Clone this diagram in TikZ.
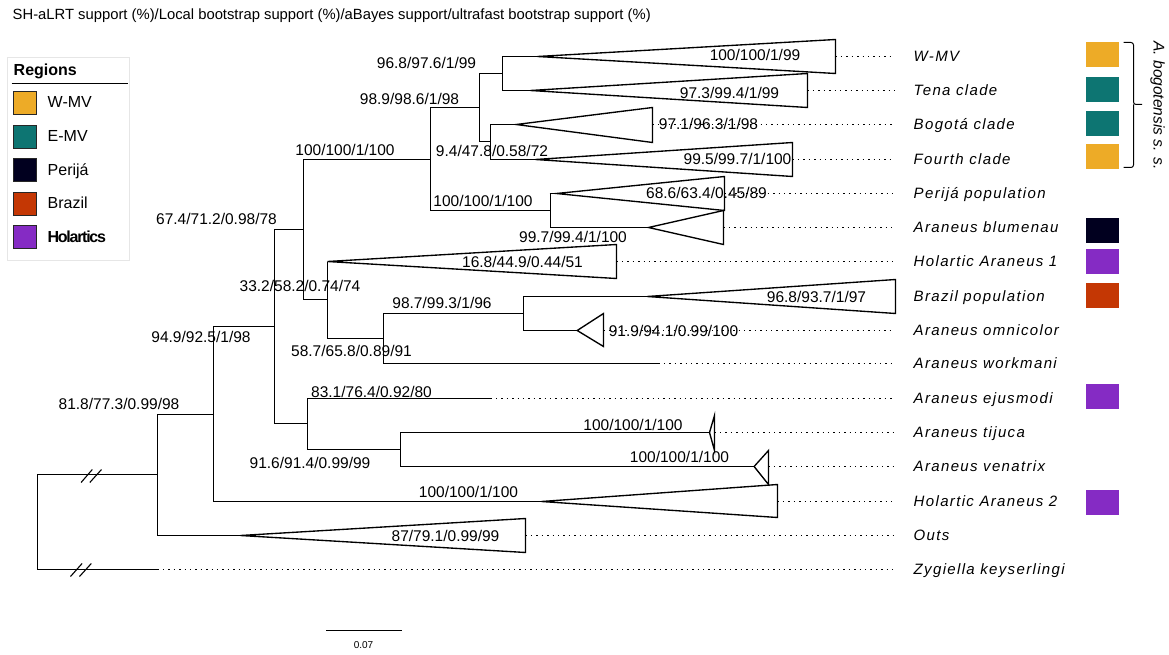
\documentclass[tikz,border=0pt]{standalone}
\usepackage{fontspec}
\setmainfont{Liberation Sans}
\newfontfamily\tipfam[LetterSpace=9]{Liberation Sans}
\newfontfamily\holfam[LetterSpace=-8]{Liberation Sans}
\definecolor{wmv}{HTML}{EDAB27}
\definecolor{emv}{HTML}{0D7572}
\definecolor{perija}{HTML}{01001F}
\definecolor{brazil}{HTML}{C43704}
\definecolor{holart}{HTML}{852BC4}
\definecolor{legborder}{HTML}{E6E6E6}
\begin{document}
\begin{tikzpicture}[x=1pt,y=-1pt,
  br/.style={line width=1.35pt},
  dots/.style={line width=1.4pt, dash pattern=on 1.4pt off 4pt},
  supp/.style={font=\fontsize{15.5}{18}\selectfont, inner sep=0pt, anchor=base, yshift=-5.6pt},
  tiplab/.style={font=\tipfam\itshape\fontsize{15}{18}\selectfont, inner sep=0pt, anchor=base west, yshift=-5.4pt},
  regsq/.style={minimum width=33pt, minimum height=25pt, inner sep=0pt},
  legsq/.style={draw=black!85, line width=0.8pt, minimum width=23pt, minimum height=23pt, inner sep=0pt},
  leglab/.style={font=\fontsize{16}{19}\selectfont, inner sep=0pt, anchor=base west, yshift=-5.8pt},
  breakmark/.style={line width=1.1pt}
]
\path[fill=white] (-0.5,-0.5) rectangle (1168.5,654.5);
\useasboundingbox (-0.5,-0.5) rectangle (1168.5,654.5);

% title
\node[anchor=base west, inner sep=0pt, font=\fontsize{14.8}{17}\selectfont] (title) at (12,19)
  {SH-aLRT support (\%)/Local bootstrap support (\%)/aBayes support/ultrafast bootstrap support (\%)};

% legend
\draw[legborder, line width=1pt] (7,57) rectangle (129,260);
\node[anchor=base west, inner sep=0pt, font=\bfseries\fontsize{16}{19}\selectfont] (regions) at (13,74.8) {Regions};
\draw[line width=1.2pt] (11,83) -- (127,83);
\node[legsq, fill=wmv] (lq1) at (24.5,102) {};
\node[legsq, fill=emv] (lq2) at (24.5,136.3) {};
\node[legsq, fill=perija] (lq3) at (24.5,169.5) {};
\node[legsq, fill=brazil] (lq4) at (24.5,203) {};
\node[legsq, fill=holart] (lq5) at (24.5,236.7) {};
\node[leglab] (ll1) at (47,101) {W-MV};
\node[leglab] (ll2) at (47,135.5) {E-MV};
\node[leglab] (ll3) at (47,169) {Perijá};
\node[leglab] (ll4) at (47,202.5) {Brazil};
\node[leglab, font=\holfam\bfseries\fontsize{16}{19}\selectfont] (ll5) at (47,236.5) {Holartics};

% internal nodes
\coordinate (root) at (37,522);
\coordinate (nK) at (157,474);
\coordinate (nJ) at (213,414);
\coordinate (nG) at (274,326);
\coordinate (nC) at (303,229);
\coordinate (nB) at (430,159);
\coordinate (nA) at (479,107);
\coordinate (nWT) at (502,73);
\coordinate (nBF) at (490,141);
\coordinate (nPB) at (550,210);
\coordinate (nD) at (327,299);
\coordinate (nE) at (383,338);
\coordinate (nF) at (523,313);
\coordinate (nH) at (307,423);
\coordinate (nI) at (400,449);

% clade apices / branch ends
\coordinate (aWMV) at (537,56);
\coordinate (aTena) at (530,90);
\coordinate (aBog) at (515.7,124);
\coordinate (aFour) at (535,159);
\coordinate (aPer) at (556,193);
\coordinate (aBlu) at (648,227);
\coordinate (aHol1) at (327,261);
\coordinate (aBra) at (646.7,296);
\coordinate (aOmn) at (576.7,330);
\coordinate (aWork) at (658,363);
\coordinate (aEju) at (490,398);
\coordinate (aTij) at (709,432);
\coordinate (aVen) at (753.6,466);
\coordinate (aHol2) at (541,501);
\coordinate (aOuts) at (240,535);
\coordinate (aZyg) at (157,569);

% branches
\draw[br] (root) |- (nK);
\draw[br] (root) |- (aZyg);
\draw[br] (nK) |- (nJ);
\draw[br] (nK) |- (aOuts);
\draw[br] (nJ) |- (nG);
\draw[br] (nJ) |- (aHol2);
\draw[br] (nG) |- (nC);
\draw[br] (nG) |- (nH);
\draw[br] (nC) |- (nB);
\draw[br] (nC) |- (nD);
\draw[br] (nB) |- (nA);
\draw[br] (nB) |- (nPB);
\draw[br] (nA) |- (nWT);
\draw[br] (nA) |- (nBF);
\draw[br] (nWT) |- (aWMV);
\draw[br] (nWT) |- (aTena);
\draw[br] (nBF) |- (aBog);
\draw[br] (nBF) |- (aFour);
\draw[br] (nPB) |- (aPer);
\draw[br] (nPB) |- (aBlu);
\draw[br] (nD) |- (aHol1);
\draw[br] (nD) |- (nE);
\draw[br] (nE) |- (nF);
\draw[br] (nE) |- (aWork);
\draw[br] (nF) |- (aBra);
\draw[br] (nF) |- (aOmn);
\draw[br] (nH) |- (aEju);
\draw[br] (nH) |- (nI);
\draw[br] (nI) |- (aTij);
\draw[br] (nI) |- (aVen);

% collapsed clades
\draw[br] (aWMV) -- (835,39) -- (835,73) -- cycle;
\draw[br] (aTena) -- (807,73) -- (807,107) -- cycle;
\draw[br] (aBog) -- (652,107) -- (652,142) -- cycle;
\draw[br] (aFour) -- (792,142) -- (792,176) -- cycle;
\draw[br] (aPer) -- (724,176) -- (724,210) -- cycle;
\draw[br] (aBlu) -- (723,210) -- (723,244) -- cycle;
\draw[br] (aHol1) -- (616,244) -- (616,278) -- cycle;
\draw[br] (aBra) -- (895,279) -- (895,313) -- cycle;
\draw[br] (aOmn) -- (603,313) -- (603,346) -- cycle;
\draw[br] (aTij) -- (714,415) -- (714,450) -- cycle;
\draw[br] (aVen) -- (768,450) -- (768,484) -- cycle;
\draw[br] (aHol2) -- (777,484) -- (777,517) -- cycle;
\draw[br] (aOuts) -- (525,518) -- (525,552) -- cycle;

% break marks
\draw[breakmark] (80.6,482) -- (91.8,469);
\draw[breakmark] (89.3,482) -- (101,469);
\draw[breakmark] (70,576) -- (81.6,563);
\draw[breakmark] (79,576) -- (90.8,563);

% tip labels
\node[tiplab] (tWMV) at (913,56) {W-MV};
\node[tiplab] (tTena) at (913,90) {Tena clade};
\node[tiplab] (tBog) at (913,124) {Bogotá clade};
\node[tiplab] (tFour) at (913,159) {Fourth clade};
\node[tiplab] (tPer) at (913,193) {Perijá population};
\node[tiplab] (tBlu) at (913,227) {Araneus blumenau};
\node[tiplab] (tHol1) at (913,261) {Holartic Araneus 1};
\node[tiplab] (tBra) at (913,296) {Brazil population};
\node[tiplab] (tOmn) at (913,330) {Araneus omnicolor};
\node[tiplab] (tWork) at (913,363) {Araneus workmani};
\node[tiplab] (tEju) at (913,398) {Araneus ejusmodi};
\node[tiplab] (tTij) at (913,432) {Araneus tijuca};
\node[tiplab] (tVen) at (913,466) {Araneus venatrix};
\node[tiplab] (tHol2) at (913,501) {Holartic Araneus 2};
\node[tiplab] (tOuts) at (913,535) {Outs};
\node[tiplab] (tZyg) at (913,569) {Zygiella keyserlingi};

% leader dots
\draw[dots] (835,56) -- (894,56);
\draw[dots] (807,90) -- (894,90);
\draw[dots] (652,124) -- (894,124);
\draw[dots] (792,159) -- (894,159);
\draw[dots] (724,193) -- (894,193);
\draw[dots] (723,227) -- (894,227);
\draw[dots] (616,261) -- (894,261);
\draw[dots] (603,330) -- (894,330);
\draw[dots] (aWork) -- (894,363);
\draw[dots] (aEju) -- (894,398);
\draw[dots] (714,432) -- (894,432);
\draw[dots] (768,466) -- (894,466);
\draw[dots] (777,501) -- (894,501);
\draw[dots] (525,535) -- (894,535);
\draw[dots] (aZyg) -- (894,569);

% support values
\node[supp] (s1) at (426,62) {96.8/97.6/1/99};
\node[supp] (s2) at (409,98) {98.9/98.6/1/98};
\node[supp] (s3) at (344.5,149) {100/100/1/100};
\node[supp] (s4) at (491.5,150) {9.4/47.8/0.58/72};
\node[supp] (s5) at (482.5,200) {100/100/1/100};
\node[supp] (s6) at (706,192) {68.6/63.4/0.45/89};
\node[supp] (s7) at (572.5,236.7) {99.7/99.4/1/100};
\node[supp] (s8) at (216,218) {67.4/71.2/0.98/78};
\node[supp] (s9) at (522,261.7) {16.8/44.9/0.44/51};
\node[supp] (s10) at (299.5,285) {33.2/58.2/0.74/74};
\node[supp] (s11) at (200.5,336) {94.9/92.5/1/98};
\node[supp] (s12) at (441.5,302) {98.7/99.3/1/96};
\node[supp] (s13) at (816,296) {96.8/93.7/1/97};
\node[supp] (s14) at (351,350) {58.7/65.8/0.89/91};
\node[supp] (s15) at (673,330) {91.9/94.1/0.99/100};
\node[supp] (s16) at (118.5,403) {81.8/77.3/0.99/98};
\node[supp] (s17) at (371,391) {83.1/76.4/0.92/80};
\node[supp] (s18) at (309.5,462) {91.6/91.4/0.99/99};
\node[supp] (s19) at (632.5,424) {100/100/1/100};
\node[supp] (s20) at (679,456) {100/100/1/100};
\node[supp] (s21) at (468,491) {100/100/1/100};
\node[supp] (s22) at (445,535) {87/79.1/0.99/99};
\node[supp] (s23) at (754.5,54) {100/100/1/99};
\node[supp] (s24) at (729,92) {97.3/99.4/1/99};
\node[supp] (s25) at (708,123) {97.1/96.3/1/98};
\node[supp] (s26) at (737,158) {99.5/99.7/1/100};

% region squares
\node[regsq, fill=wmv] (q1) at (1101.5,54.2) {};
\node[regsq, fill=emv] (q2) at (1101.5,89.2) {};
\node[regsq, fill=emv] (q3) at (1101.5,123.5) {};
\node[regsq, fill=wmv] (q4) at (1101.5,155.8) {};
\node[regsq, fill=perija] (q5) at (1101.5,229.6) {};
\node[regsq, fill=holart] (q6) at (1101.5,260.5) {};
\node[regsq, fill=brazil] (q7) at (1101.5,294.5) {};
\node[regsq, fill=holart] (q8) at (1101.5,396) {};
\node[regsq, fill=holart] (q9) at (1101.5,502) {};

% bracket
\draw[line width=1pt, rounded corners=2.5pt] (1123,42) -- (1133,42) -- (1133,104) -- (1141.5,104);
\draw[line width=1pt, rounded corners=2.5pt] (1123,167) -- (1133,167) -- (1133,104);
\node[rotate=-90, inner sep=0pt, font=\itshape\fontsize{15.5}{18}\selectfont] (bogo) at (1157,105) {A. bogotensis s. s.};

% scale bar
\coordinate (sb1) at (325.5,630);
\coordinate (sb2) at (401.5,630);
\draw[line width=1.1pt] (sb1) -- (sb2);
\node[inner sep=0pt, font=\fontsize{10}{12}\selectfont] (sblab) at (363,645) {0.07};
\end{tikzpicture}
\end{document}
